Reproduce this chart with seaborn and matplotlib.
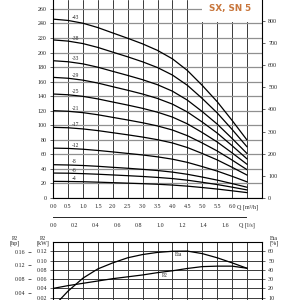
import numpy as np
import pandas as pd
import matplotlib
matplotlib.use("Agg")
import matplotlib.pyplot as plt
import seaborn as sns
from matplotlib.patches import Rectangle
from matplotlib import font_manager

# ---------------- data ----------------
q = [0.0, 0.5, 1.0, 1.5, 2.0, 2.5, 3.0, 3.5, 4.0, 4.5, 5.0, 5.5, 6.0, 6.5]

head_43 = [246.0, 244.2, 240.4, 234.4, 227.0, 219.7, 212.0, 203.0, 191.4, 175.4, 154.8, 132.4, 106.6, 79.6]
head_38 = [217.4, 215.8, 212.4, 207.1, 200.6, 194.2, 187.3, 179.4, 169.1, 155.0, 136.8, 117.0, 94.2, 70.3]
head_33 = [188.8, 187.4, 184.5, 179.9, 174.2, 168.6, 162.7, 155.8, 146.9, 134.6, 118.8, 101.6, 81.8, 61.1]
head_29 = [165.9, 164.7, 162.1, 158.1, 153.1, 148.2, 143.0, 136.9, 129.1, 118.3, 104.4, 89.3, 71.9, 53.7]
head_25 = [143.0, 142.0, 139.8, 136.3, 132.0, 127.8, 123.3, 118.0, 111.3, 102.0, 90.0, 77.0, 62.0, 46.3]
head_21 = [120.1, 119.3, 117.4, 114.5, 110.9, 107.3, 103.5, 99.1, 93.5, 85.7, 75.6, 64.7, 52.1, 38.9]
head_17 = [97.2, 96.6, 95.0, 92.7, 89.8, 86.9, 83.8, 80.2, 75.7, 69.4, 61.2, 52.4, 42.2, 31.5]
head_12 = [68.6, 68.2, 67.1, 65.4, 63.4, 61.3, 59.2, 56.6, 53.4, 49.0, 43.2, 37.0, 29.8, 22.2]
head_8 = [45.8, 45.4, 44.7, 43.6, 42.2, 40.9, 39.4, 37.8, 35.6, 32.6, 28.8, 24.6, 19.8, 14.8]
head_6 = [34.3, 34.1, 33.5, 32.7, 31.7, 30.7, 29.6, 28.3, 26.7, 24.5, 21.6, 18.5, 14.9, 11.1]
head_4 = [22.9, 22.7, 22.4, 21.8, 21.1, 20.4, 19.7, 18.9, 17.8, 16.3, 14.4, 12.3, 9.9, 7.4]

curve_labels = ["-43", "-38", "-33", "-29", "-25", "-21", "-17", "-12", "-8", "-6", "-4"]
curve_heads = [head_43, head_38, head_33, head_29, head_25, head_21, head_17,
               head_12, head_8, head_6, head_4]

eta = [0.0, 17.0, 31.0, 41.0, 47.5, 53.0, 56.5, 58.8, 60.0, 60.2, 57.5, 53.0, 47.5, 41.7]
p2_kw = [0.040, 0.046, 0.051, 0.056, 0.061, 0.065, 0.069, 0.074, 0.078, 0.083,
         0.087, 0.088, 0.088, 0.0835]

q_ticklabels = ["0.0", "0.5", "1.0", "1.5", "2.0", "2.5", "3.0", "3.5", "4.0",
                "4.5", "5.0", "5.5", "6.0", "Q [m\u00b3/h]"]
ls_ticklabels = ["0.0", "0.2", "0.4", "0.6", "0.8", "1.0", "1.2", "1.4", "1.6", "Q [l/s]"]
title_text = "SX, SN 5"

# ---------------- long-form tables ----------------
rows = []
for lab, hs in zip(curve_labels, curve_heads):
    for qq, hh in zip(q, hs):
        rows.append({"curve": lab, "Q": qq, "H": hh})
df_h = pd.DataFrame(rows)
df_eta = pd.DataFrame({"Q": q, "eta": eta})
df_p2 = pd.DataFrame({"Q": q, "P2": p2_kw})

# ---------------- style ----------------
sns.set_style("white")
plt.rcParams["font.family"] = ["Liberation Serif", "DejaVu Serif"]
TS = 4.3

installed = {f.name for f in font_manager.fontManager.ttflist}
if "Liberation Sans Narrow" in installed:
    title_family, title_size = ["Liberation Sans Narrow"], 8.0
else:
    title_family, title_size = ["DejaVu Sans"], 6.3

W = H = 300.0
def fx(px):
    return px / W
def fy(py):
    return 1 - py / H

fig = plt.figure(figsize=(3, 3), dpi=100)

# ---------- main head chart ----------
x0, x1 = 53, 262
ytop, ybot = 0, 198
ax = fig.add_axes([fx(x0), fy(ybot), (x1 - x0) / W, (ybot - ytop) / H])
sns.lineplot(data=df_h, x="Q", y="H", units="curve", estimator=None,
             color="black", lw=0.9, ax=ax, zorder=3, legend=False)
ax.set_xlim(0, 7.0)
ax.set_ylim(0, 272.3)
ax.set_axisbelow(True)
ax.set_xticks(np.arange(0, 6.51, 0.5))
ax.set_xticklabels(q_ticklabels)
ax.set_yticks(np.arange(0, 261, 20))
ax.grid(axis="x", color="#3a3a3a", lw=0.7)
ax.grid(axis="y", color="#909090", lw=0.9)
ax.set_xlabel("")
ax.set_ylabel("")
ax.tick_params(labelsize=TS, length=2.5, width=0.5, pad=2)
for s in ["left", "right", "bottom"]:
    ax.spines[s].set_color("black")
    ax.spines[s].set_linewidth(0.8)
ax.spines["top"].set_visible(False)

# title box
ax.add_patch(Rectangle((5.0, 241.5), 2.0, 40, facecolor="white",
                       edgecolor="none", zorder=2))
ax.text(5.93, 260, title_text, color="#C8763C", fontsize=title_size,
        fontweight="bold", family=title_family, ha="center", va="center",
        zorder=5)

# curve labels
for lab, hs in zip(curve_labels, curve_heads):
    ax.text(0.62, hs[1] + 0.8, lab, fontsize=TS - 0.3, ha="left", va="bottom",
            zorder=4)

# right axis in feet
axr = ax.twinx()
axr.set_ylim(0, 272.3 * 3.2808)
axr.set_yticks(np.arange(0, 801, 100))
axr.tick_params(labelsize=TS, length=2.5, width=0.5, pad=2)
axr.grid(False)
for s in axr.spines.values():
    s.set_visible(False)

# ---------- l/s axis ----------
axq = fig.add_axes([fx(x0), fy(217), (x1 - x0) / W, 0.0001])
axq.set_xlim(0, 7.0 / 3.6)
axq.set_xticks(np.arange(0, 1.81, 0.2))
axq.set_xticklabels(ls_ticklabels)
axq.set_yticks([])
axq.patch.set_visible(False)
for s in ["left", "right", "top"]:
    axq.spines[s].set_visible(False)
axq.spines["bottom"].set_bounds(0, 1.8)
axq.spines["bottom"].set_linewidth(0.7)
axq.tick_params(labelsize=TS, length=2.5, width=0.5, pad=1.5)

# ---------- power / efficiency chart ----------
pt, pb = 242, 307
axb = fig.add_axes([fx(x0), fy(pb), (x1 - x0) / W, (pb - pt) / H])
sns.lineplot(data=df_p2, x="Q", y="P2", color="black", lw=0.9, ax=axb, zorder=3)
axb.set_xlim(0, 7.0)
axb.set_ylim(0, 0.14)
axb.set_axisbelow(True)
axb.set_xticks(np.arange(0, 6.51, 0.5))
axb.set_xticklabels([])
axb.set_yticks(np.arange(0.02, 0.121, 0.02))
axb.set_yticklabels(["0.02", "0.04", "0.06", "0.08", "0.10", "0.12"])
axb.grid(axis="x", color="#3a3a3a", lw=0.7)
axb.grid(axis="y", color="#3a3a3a", lw=0.7)
axb.set_xlabel("")
axb.set_ylabel("")
axb.tick_params(axis="y", labelsize=TS, length=2.5, width=0.5, pad=1.5)
axb.tick_params(axis="x", length=0)
for s in axb.spines.values():
    s.set_color("black")
    s.set_linewidth(0.8)

axe = axb.twinx()
sns.lineplot(data=df_eta, x="Q", y="eta", color="black", lw=0.9, ax=axe, zorder=3)
axe.set_ylim(0, 70)
axe.set_yticks(np.arange(10, 61, 10))
axe.set_ylabel("")
axe.tick_params(labelsize=TS, length=2.5, width=0.5, pad=2)
axe.grid(False)
for s in axe.spines.values():
    s.set_visible(False)

axb.text(4.2, 0.112, "Eta", fontsize=TS - 0.3, ha="center", va="center")
axb.text(3.75, 0.068, "P2", fontsize=TS - 0.3, ha="center", va="center")

# hp axis
sec = axb.secondary_yaxis(-22 / 209.0, functions=(lambda k: k / 0.7457,
                                                 lambda h: h * 0.7457))
sec.set_yticks([0.04, 0.08, 0.12, 0.16])
sec.set_yticklabels(["0.04", "0.08", "0.12", "0.16"])
sec.tick_params(labelsize=TS, length=2.5, width=0.5, pad=1.5)
sec.spines["left"].set_visible(False)

fig.text(fx(15), fy(241), "P2\n[hp]", fontsize=TS, ha="center", va="center",
         linespacing=1.0)
fig.text(fx(43), fy(241), "P2\n[kW]", fontsize=TS, ha="center", va="center",
         linespacing=1.0)
fig.text(fx(274), fy(241), "Eta\n[%]", fontsize=TS, ha="center", va="center",
         linespacing=1.0)

fig.savefig("out.png", dpi=100)
